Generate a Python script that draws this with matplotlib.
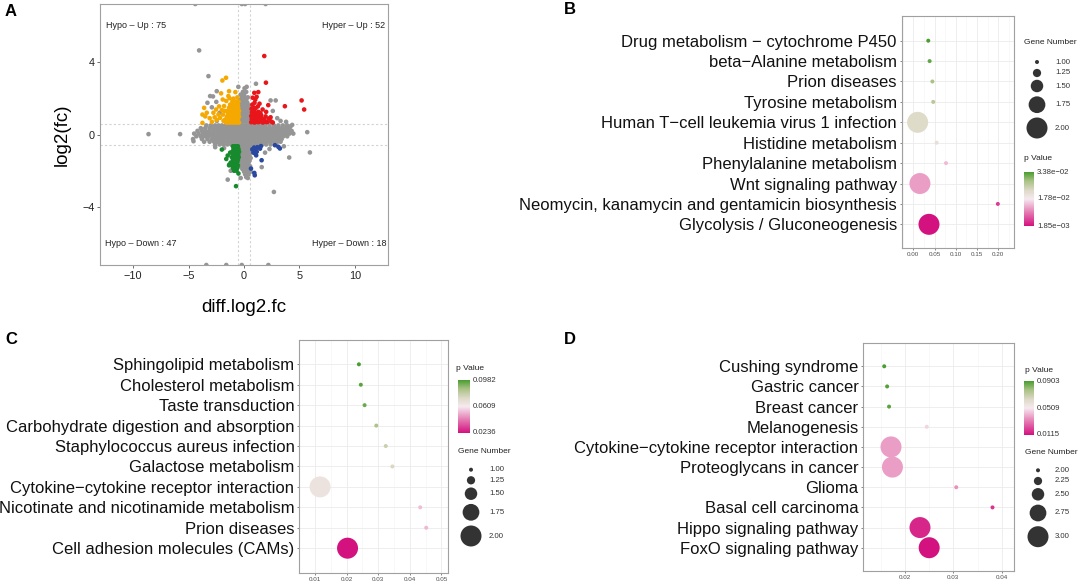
import numpy as np
import matplotlib
matplotlib.use("Agg")
import matplotlib.pyplot as plt
from matplotlib.colors import LinearSegmentedColormap, Normalize
from matplotlib.ticker import MultipleLocator

plt.rcParams['font.family'] = ['Liberation Sans', 'DejaVu Sans']

# ---------------- Panel A data ----------------
threshold = 0.585
count_labels = ["Hypo – Up : 75", "Hyper – Up : 52", "Hypo – Down : 47", "Hyper – Down : 18"]

gray_core = [
    (0.50, [-3.4, -3.0, -2.6, -2.3, -2.0, -1.7, -1.4, -1.1, -0.8, -0.5, -0.2, 0.1, 0.4, 0.7, 1.0, 1.3, 1.6, 1.9, 2.3, 2.7, 3.1, 3.5, 3.9]),
    (0.35, [-3.9, -3.5, -3.1, -2.8, -2.5, -2.2, -1.9, -1.6, -1.3, -1.0, -0.7, -0.4, -0.1, 0.2, 0.5, 0.8, 1.1, 1.4, 1.7, 2.0, 2.3, 2.6, 2.9, 3.2, 3.5, 3.8, 4.1]),
    (0.20, [-4.2, -3.8, -3.45, -3.1, -2.75, -2.4, -2.1, -1.8, -1.5, -1.2, -0.9, -0.6, -0.3, 0.0, 0.3, 0.6, 0.9, 1.2, 1.5, 1.8, 2.1, 2.4, 2.7, 3.0, 3.3, 3.6, 3.95, 4.3]),
    (0.05, [-4.5, -4.1, -3.7, -3.35, -3.0, -2.65, -2.3, -2.0, -1.7, -1.4, -1.1, -0.8, -0.5, -0.2, 0.1, 0.4, 0.7, 1.0, 1.3, 1.6, 1.9, 2.2, 2.5, 2.8, 3.1, 3.4, 3.75, 4.1, 4.45]),
    (-0.10, [-4.3, -3.9, -3.55, -3.2, -2.85, -2.5, -2.2, -1.9, -1.6, -1.3, -1.0, -0.7, -0.4, -0.1, 0.2, 0.5, 0.8, 1.1, 1.4, 1.7, 2.0, 2.3, 2.6, 2.9, 3.2, 3.55, 3.9]),
    (-0.25, [-4.6, -3.8, -3.3, -2.9, -2.6, -2.3, -2.0, -1.7, -1.4, -1.1, -0.8, -0.5, -0.2, 0.1, 0.4, 0.7, 1.0, 1.3, 1.6, 1.9, 2.2, 2.5, 2.8, 3.1, 3.4]),
    (-0.40, [-3.6, -3.1, -2.7, -2.4, -2.1, -1.8, -1.5, -1.2, -0.9, -0.6, -0.3, 0.0, 0.3, 0.6, 0.9, 1.2, 1.5, 1.8, 2.1, 2.4, 2.7, 3.0, 3.3]),
    (-0.55, [-2.6, -2.2, -1.85, -1.5, -1.15, -0.8, -0.45, -0.1, 0.25, 0.6, 0.95, 1.3, 1.65, 2.0, 2.4, 2.9]),
    (0.70, [-0.4, -0.1, 0.2, 0.45]),
    (0.85, [-0.5, -0.25, 0.05, 0.3, 0.5]),
    (1.00, [-0.35, -0.05, 0.25, 0.5]),
    (1.15, [-0.5, -0.2, 0.1, 0.4]),
    (1.30, [-0.4, -0.1, 0.2, 0.5]),
    (1.45, [-0.3, 0.0, 0.3]),
    (1.60, [-0.45, -0.15, 0.15, 0.45]),
    (1.75, [-0.3, 0.0, 0.3]),
    (1.90, [-0.4, -0.1, 0.2]),
    (2.05, [-0.2, 0.1, 0.35]),
    (2.20, [-0.3, 0.0]),
    (2.35, [-0.1, 0.2]),
    (2.55, [0.05]),
    (-0.70, [-0.35, -0.05, 0.25, 0.5]),
    (-0.85, [-0.4, -0.1, 0.2, 0.45, 0.7]),
    (-1.00, [-0.3, 0.0, 0.3, 0.55]),
    (-1.15, [-0.4, -0.1, 0.2, 0.5]),
    (-1.30, [-0.25, 0.05, 0.35, 0.6]),
    (-1.45, [-0.35, -0.05, 0.25, 0.5]),
    (-1.60, [-0.2, 0.1, 0.4]),
    (-1.75, [-0.3, 0.0, 0.3, 0.55]),
    (-1.90, [-0.15, 0.15, 0.45]),
    (-2.05, [0.0, 0.3, 0.6]),
    (-2.20, [0.1, 0.4]),
    (-2.35, [0.2]),
]
gray_extra = [
    (-4.05, 4.64), (-8.62, 0.02), (-5.77, 0.02), (-4.56, -0.37), (-3.21, 3.22), (-3.06, 2.12),
    (-2.46, 2.39), (-2.8, 2.1), (-2.5, 1.8), (-2.9, 1.5), (-3.3, 1.75), (-2.2, 1.2), (-2.45, 0.75),
    (0.24, 2.63), (-0.51, 2.63), (1.08, 2.8), (2.4, 1.88), (2.86, 1.88), (2.6, 1.3), (3.0, 0.9),
    (3.3, 0.75), (3.8, 0.7), (4.35, 0.53), (4.2, 0.45), (5.71, 0.13), (-1.47, -2.49), (2.70, -3.17),
    (4.08, -1.27), (5.95, -0.99), (1.9, -1.0), (2.3, -0.8), (3.6, -0.65), (-1.8, -0.75), (-2.6, -0.7),
    (1.6, -1.8), (-1.2, -2.0), (-0.3, -2.4), (0.35, -2.4), (-4.4, 7.2), (-0.2, 7.2), (0.1, 7.2),
    (1.95, 7.2), (-3.4, -7.2), (-1.6, -7.2), (-0.2, -7.2), (2.2, -7.2),
]
red_pts = [
    (1.83, 4.33), (1.98, 2.86), (0.93, 2.30), (1.29, 2.34), (0.78, 2.03), (1.14, 2.08), (1.02, 1.93),
    (2.19, 1.62), (1.68, 1.38), (3.69, 1.56), (5.2, 1.88), (5.43, 1.38), (2.0, 1.25),
    (0.65, 0.68), (0.8, 0.7), (0.95, 0.66), (1.1, 0.7), (1.3, 0.68), (1.5, 0.72), (1.7, 0.66), (1.9, 0.7),
    (2.1, 0.68), (2.45, 0.72), (2.6, 0.66), (0.7, 0.85), (0.88, 0.9), (1.05, 0.82), (1.22, 0.88),
    (1.4, 0.85), (1.6, 0.9), (1.85, 0.84), (2.25, 0.88), (0.65, 1.02), (0.82, 1.08), (1.0, 1.0),
    (1.18, 1.1), (1.35, 1.02), (1.55, 1.06), (1.95, 1.0), (0.72, 1.22), (0.9, 1.28), (1.1, 1.2),
    (1.3, 1.25), (1.48, 1.18), (0.68, 1.42), (0.85, 1.5), (1.05, 1.45), (1.25, 1.55), (0.75, 1.65),
    (1.4, 1.7), (0.95, 1.75), (2.4, 0.95),
]
orange_pts = [
    (-1.6, 0.66), (-1.4, 0.66), (-1.2, 0.66), (-1.0, 0.66), (-0.82, 0.66), (-0.62, 0.66), (-0.45, 0.66),
    (-1.7, 0.82), (-1.5, 0.82), (-1.3, 0.82), (-1.1, 0.82), (-0.92, 0.82), (-0.75, 0.82), (-0.55, 0.82),
    (-1.55, 0.98), (-1.35, 0.98), (-1.15, 0.98), (-0.98, 0.98), (-0.8, 0.98), (-0.6, 0.98), (-0.45, 0.98),
    (-1.45, 1.14), (-1.25, 1.14), (-1.05, 1.14), (-0.88, 1.14), (-0.68, 1.14), (-0.5, 1.14),
    (-1.5, 1.3), (-1.2, 1.3), (-1.0, 1.3), (-0.82, 1.3), (-0.62, 1.3), (-0.45, 1.3),
    (-1.35, 1.48), (-1.1, 1.48), (-0.9, 1.48), (-0.7, 1.48), (-0.52, 1.48),
    (-1.25, 1.65), (-0.95, 1.65), (-0.75, 1.65), (-0.55, 1.65), (-1.05, 1.82), (-0.7, 1.82), (-0.5, 1.82),
    (-3.6, 1.47), (-3.75, 1.1), (-3.36, 1.2), (-3.75, 0.64), (-3.5, 1.0), (-2.76, 1.2), (-2.52, 1.38),
    (-2.31, 1.1), (-2.16, 0.92), (-2.46, 0.8), (-1.92, 1.93), (-1.41, 2.12), (-1.8, 1.57),
    (-1.95, 2.98), (-1.62, 3.13), (-2.07, 2.27), (-1.35, 2.39), (-0.78, 2.34), (-0.95, 1.98), (-0.6, 2.05),
    (-2.9, 0.7), (-3.1, 0.9), (-2.65, 0.95), (-1.85, 0.75), (-1.9, 1.1), (-2.0, 1.35), (-1.75, 1.3),
    (-2.25, 1.55), (-1.6, 1.85), (-1.3, 2.0),
]
green_pts = [
    (-1.0, -0.65), (-0.85, -0.65), (-0.7, -0.65), (-0.55, -0.65),
    (-0.95, -0.8), (-0.8, -0.8), (-0.65, -0.8), (-0.5, -0.8),
    (-1.05, -0.95), (-0.9, -0.95), (-0.75, -0.95), (-0.6, -0.95), (-0.45, -0.95),
    (-0.98, -1.1), (-0.82, -1.1), (-0.68, -1.1), (-0.52, -1.1),
    (-1.1, -1.25), (-0.95, -1.25), (-0.8, -1.25), (-0.62, -1.25), (-0.48, -1.25),
    (-1.0, -1.4), (-0.85, -1.4), (-0.7, -1.4), (-0.55, -1.4),
    (-1.2, -1.55), (-0.95, -1.55), (-0.78, -1.55), (-0.6, -1.55),
    (-1.35, -1.7), (-1.1, -1.7), (-0.9, -1.7), (-0.72, -1.7), (-0.55, -1.7),
    (-1.0, -1.85), (-0.8, -1.85), (-0.6, -1.85), (-0.9, -2.0), (-0.68, -2.0),
    (-2.0, -0.83), (-1.47, -1.16), (-1.32, -1.66), (-0.72, -2.85), (-1.6, -1.35), (-1.25, -1.0), (-0.5, -2.15),
]
blue_pts = [
    (0.9, -0.72), (1.05, -0.8), (0.95, -0.9), (1.15, -0.95), (0.85, -1.0), (1.0, -1.05), (1.2, -0.7),
    (1.53, -0.64), (1.45, -0.78), (2.79, -0.59), (3.24, -0.77), (3.1, -0.68), (1.59, -1.42),
    (0.63, -1.88), (0.93, -2.12), (0.97, -2.25), (1.1, -1.15), (0.75, -0.82),
]

# ---------------- Panels B, C, D data ----------------
cats_B = ["Drug metabolism − cytochrome P450", "beta−Alanine metabolism", "Prion diseases",
          "Tyrosine metabolism", "Human T−cell leukemia virus 1 infection", "Histidine metabolism",
          "Phenylalanine metabolism", "Wnt signaling pathway",
          "Neomycin, kanamycin and gentamicin biosynthesis", "Glycolysis / Gluconeogenesis"]
ratio_B = [0.0353, 0.0385, 0.045, 0.047, 0.0103, 0.055, 0.077, 0.0157, 0.199, 0.037]
genes_B = [1, 1, 1, 1, 2, 1, 1, 2, 1, 2]
p_B = [0.0338, 0.0325, 0.0285, 0.027, 0.0228, 0.021, 0.0145, 0.0124, 0.0051, 0.00185]
xticks_B = [0.00, 0.05, 0.10, 0.15, 0.20]

cats_C = ["Sphingolipid metabolism", "Cholesterol metabolism", "Taste transduction",
          "Carbohydrate digestion and absorption", "Staphylococcus aureus infection",
          "Galactose metabolism", "Cytokine−cytokine receptor interaction",
          "Nicotinate and nicotinamide metabolism", "Prion diseases", "Cell adhesion molecules (CAMs)"]
ratio_C = [0.0239, 0.0245, 0.0257, 0.0294, 0.0324, 0.0345, 0.0116, 0.0433, 0.0452, 0.0203]
genes_C = [1, 1, 1, 1, 1, 1, 2, 1, 1, 2]
p_C = [0.0982, 0.096, 0.094, 0.085, 0.078, 0.074, 0.066, 0.0534, 0.0525, 0.0236]
xticks_C = [0.01, 0.02, 0.03, 0.04, 0.05]

cats_D = ["Cushing syndrome", "Gastric cancer", "Breast cancer", "Melanogenesis",
          "Cytokine−cytokine receptor interaction", "Proteoglycans in cancer", "Glioma",
          "Basal cell carcinoma", "Hippo signaling pathway", "FoxO signaling pathway"]
ratio_D = [0.0157, 0.0163, 0.0167, 0.0245, 0.0171, 0.0174, 0.0306, 0.0381, 0.0231, 0.0250]
genes_D = [2, 2, 2, 2, 3, 3, 2, 2, 3, 3]
p_D = [0.0903, 0.089, 0.088, 0.047, 0.0375, 0.0375, 0.035, 0.0178, 0.0154, 0.0115]
xticks_D = [0.02, 0.03, 0.04]

# ---------------- figure ----------------
W, H = 1079, 583
fig = plt.figure(figsize=(W / 100, H / 100), dpi=100)


def ax_px(l, t, r, b):
    return fig.add_axes([l / W, 1 - b / H, (r - l) / W, (b - t) / H])


pv_cmap = LinearSegmentedColormap.from_list('pv', [
    (0.0, '#D3127F'), (0.25, '#E57AB2'), (0.5, '#F6EAF0'),
    (0.66, '#DEDAC8'), (0.84, '#A8C184'), (1.0, '#4A9E2F')])

BORDER = '#A0A0A0'
D_MIN, D_MAX = 4.0, 21.0


def diam(g, gmin, gmax):
    return D_MIN + (g - gmin) / (gmax - gmin) * (D_MAX - D_MIN)


# ---- Panel A ----
axA = ax_px(100, 4, 388, 265)
gx = [x for y, xs in gray_core for x in xs] + [p[0] for p in gray_extra]
gy = [y for y, xs in gray_core for x in xs] + [p[1] for p in gray_extra]
sA = (4.6 * 0.72) ** 2
axA.scatter(gx, gy, s=sA, c='#959595', edgecolors='none', zorder=2)
for pts, col in [(orange_pts, '#F5A800'), (red_pts, '#E8161B'),
                 (green_pts, '#178A2E'), (blue_pts, '#2A48A0')]:
    axA.scatter([p[0] for p in pts], [p[1] for p in pts], s=sA, c=col, edgecolors='none', zorder=3)
for v in (-threshold, threshold):
    axA.axvline(v, color='#D2D2D2', ls=(0, (2, 2)), lw=0.8, zorder=1)
    axA.axhline(v, color='#D2D2D2', ls=(0, (2, 2)), lw=0.8, zorder=1)
axA.set_xlim(-13, 13)
axA.set_ylim(-7.2, 7.2)
axA.set_xticks([-10, -5, 0, 5, 10])
axA.set_xticklabels(['−10', '−5', '0', '5', '10'])
axA.set_yticks([-4, 0, 4])
axA.set_yticklabels(['−4', '0', '4'])
axA.tick_params(length=2, width=0.6, color='#555555', labelsize=7.8, labelcolor='#222222', pad=2)
for sp in axA.spines.values():
    sp.set_color(BORDER)
    sp.set_linewidth(0.8)
axA.set_xlabel('diff.log2.fc', fontsize=13.5, labelpad=13)
axA.set_ylabel('log2(fc)', fontsize=13.5, labelpad=8)


# ---- enrichment panels ----
def enrich(box, cats, ratio, genes, pv, xticks, xlim, ylo, yhi, minor):
    ax = ax_px(*box)
    n = len(cats)
    ypos = np.arange(n)[::-1]
    norm = Normalize(min(pv), max(pv))
    gmin, gmax = min(genes), max(genes)
    sizes = [(diam(g, gmin, gmax) * 0.72) ** 2 for g in genes]
    ax.scatter(ratio, ypos, s=sizes, c=pv_cmap(norm(np.array(pv))), edgecolors='none', zorder=3)
    ax.set_xlim(*xlim)
    ax.set_ylim(-ylo, n - 1 + yhi)
    ax.set_xticks(xticks)
    ax.set_xticklabels(['%.2f' % t for t in xticks])
    ax.xaxis.set_minor_locator(MultipleLocator(minor))
    ax.set_yticks(ypos)
    ax.set_yticklabels(cats, fontsize=12, color='#111111')
    ax.grid(True, which='major', color='#EBEBEB', lw=0.6, zorder=0)
    ax.grid(True, which='minor', axis='x', color='#F4F4F4', lw=0.4, zorder=0)
    ax.set_axisbelow(True)
    ax.tick_params(axis='x', which='major', length=1.5, width=0.5, color='#555555',
                   labelsize=4.5, labelcolor='#4D4D4D', pad=1.5)
    ax.tick_params(axis='x', which='minor', length=0)
    ax.tick_params(axis='y', length=1.5, width=0.5, color='#555555', pad=2)
    for sp in ax.spines.values():
        sp.set_color(BORDER)
        sp.set_linewidth(0.8)
    return ax


enrich((901.7, 16, 1014, 248), cats_B, ratio_B, genes_B, p_B, xticks_B, (-0.0272, 0.237), 1.16, 1.21, 0.025)
enrich((299.3, 340, 447.7, 572.7), cats_C, ratio_C, genes_C, p_C, xticks_C, (0.00503, 0.052), 1.2, 1.19, 0.005)
enrich((863.3, 342.7, 1014, 570.7), cats_D, ratio_D, genes_D, p_D, xticks_D, (0.01137, 0.04255), 1.14, 1.17, 0.005)

# ---- overlay for labels and legends ----
ov = fig.add_axes([0, 0, 1, 1])
ov.set_xlim(0, W)
ov.set_ylim(H, 0)
ov.axis('off')
ov.patch.set_visible(False)

for lab, (x, y) in zip('ABCD', [(11, 12), (570, 10), (11, 339), (570, 340)]):
    ov.text(x, y, lab, fontsize=12, fontweight='bold', ha='center', va='center')

ov.text(106, 25, count_labels[0], fontsize=6.5, ha='left', va='center', color='#222222')
ov.text(385, 25, count_labels[1], fontsize=6.5, ha='right', va='center', color='#222222')
ov.text(105, 243.5, count_labels[2], fontsize=6.5, ha='left', va='center', color='#222222')
ov.text(386, 243.5, count_labels[3], fontsize=6.5, ha='right', va='center', color='#222222')

LEG_FS = 5.6
grad = np.linspace(1, 0, 256).reshape(-1, 1)


def pv_legend(x0, y0, x1, y1, tx, pv, fmt, title_xy):
    ov.text(title_xy[0], title_xy[1], 'p Value', fontsize=6, ha='left', va='center', color='#222222')
    ov.imshow(grad, cmap=pv_cmap, aspect='auto', extent=[x0, x1, y1, y0], zorder=2)
    lo, hi = min(pv), max(pv)
    for v, y in [(hi, y0), ((hi + lo) / 2, (y0 + y1) / 2), (lo, y1)]:
        ov.text(tx, y, fmt(v), fontsize=LEG_FS, ha='left', va='center', color='#333333')


def size_legend(cx, ys, tx, genes, title_xy):
    ov.text(title_xy[0], title_xy[1], 'Gene Number', fontsize=6, ha='left', va='center', color='#222222')
    gmin, gmax = min(genes), max(genes)
    levels = np.linspace(gmin, gmax, 5)
    for g, y in zip(levels, ys):
        ov.scatter([cx], [y], s=(diam(g, gmin, gmax) * 0.72) ** 2, c='#333333', edgecolors='none')
        ov.text(tx, y, '%.2f' % g, fontsize=LEG_FS, ha='left', va='center', color='#333333')


def sci(v):
    return ('%.2e' % v).replace('-', '−')


def dec(v):
    return '%.4f' % v


# B legends
size_legend(1037, [62, 73, 86, 104.7, 128], 1055, genes_B, (1024, 43))
pv_legend(1024, 172, 1034, 226, 1037, p_B, sci, (1024, 159))
# C legends
pv_legend(457.5, 380, 469, 433, 473, p_C, dec, (456, 369))
size_legend(471, [469.7, 480.3, 493.7, 512.3, 536], 489, genes_C, (458, 451.7))
# D legends
pv_legend(1024, 381.7, 1034, 435, 1037, p_D, dec, (1025, 370))
size_legend(1038, [470.3, 481, 494.3, 513, 536.7], 1055, genes_D, (1025, 452.7))

ov.set_xlim(0, W)
ov.set_ylim(H, 0)

fig.savefig('out.png', dpi=100)
